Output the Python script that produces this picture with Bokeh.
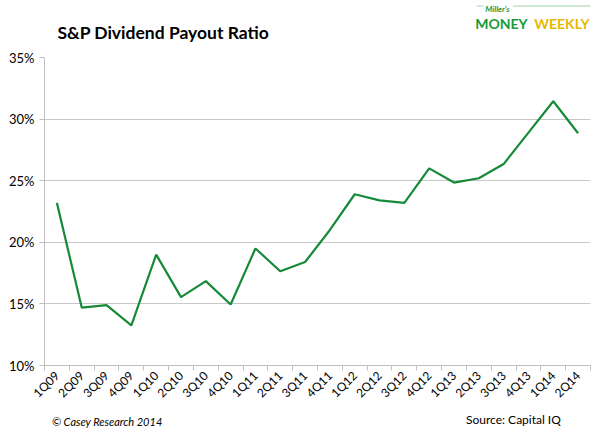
from bokeh.plotting import figure
from bokeh.models import Range1d, FixedTicker, PrintfTickFormatter, ColumnDataSource
from bokeh.layouts import column
from bokeh.core.properties import value
from bokeh.embed import file_html
from bokeh.resources import INLINE
import math

quarters = ["1Q09", "2Q09", "3Q09", "4Q09", "1Q10", "2Q10", "3Q10", "4Q10",
            "1Q11", "2Q11", "3Q11", "4Q11", "1Q12", "2Q12", "3Q12", "4Q12",
            "1Q13", "2Q13", "3Q13", "4Q13", "1Q14", "2Q14"]
payout = [23.2, 14.7, 14.9, 13.25, 19.0, 15.55, 16.85, 14.95,
          19.5, 17.65, 18.4, 21.0, 23.9, 23.4, 23.2, 26.0,
          24.85, 25.2, 26.35, 28.9, 31.45, 28.85]
y_ticks = [10, 15, 20, 25, 30, 35]

title_text = "S&P Dividend Payout Ratio"
logo_top = "Miller's"
logo_left = "MONEY"
logo_right = "WEEKLY"
credit_text = "© Casey Research 2014"
source_text = "Source: Capital IQ"

FONT = "Lato"
GREEN = "#178a3a"
W = 592


def blank(height):
    f = figure(width=W, height=height, output_backend="svg", toolbar_location=None,
               x_range=Range1d(0, W), y_range=Range1d(height, 0),
               x_axis_type=None, y_axis_type=None,
               min_border=0, min_border_left=0, min_border_right=0,
               min_border_top=0, min_border_bottom=0)
    f.grid.visible = False
    f.outline_line_color = None
    f.background_fill_color = "white"
    f.border_fill_color = "white"
    return f


# ---- header ----
HH = 48
head = blank(HH)
head.text(x=[14], y=[32], text=[title_text], text_font=value(FONT), text_font_size="17.5px",
          text_font_style="bold", text_color="#000000", text_baseline="alphabetic")
head.text(x=[467], y=[23], text=[logo_left], text_font=value(FONT), text_font_size="14px",
          text_font_style="bold", text_color="#169a3a", text_baseline="alphabetic")
head.text(x=[531], y=[23], text=[logo_right], text_font=value(FONT), text_font_size="14px",
          text_font_style="bold", text_color="#e6b800", text_baseline="alphabetic")
head.text(x=[478], y=[8], text=[logo_top], text_font=value(FONT), text_font_size="8px",
          text_font_style="bold italic", text_color="#169a3a", text_baseline="alphabetic")
head.segment(x0=[469, 508], y0=[5.5, 5.5], x1=[476, 592], y1=[5.5, 5.5],
             line_color="#9fd3ae", line_width=1)

# ---- main chart ----
xs = [i + 0.5 for i in range(len(quarters))]
src = ColumnDataSource(dict(x=xs, y=payout))

MH = 361
FH = 19
p = figure(width=W, height=MH, output_backend="svg", toolbar_location=None,
           x_range=Range1d(0, len(quarters)), y_range=Range1d(10, 35),
           min_border_left=44, min_border_right=2, min_border_top=9,
           min_border_bottom=MH - 9 - 308)
p.outline_line_color = None
p.background_fill_color = "white"
p.border_fill_color = "white"

p.line("x", "y", source=src, line_color=GREEN, line_width=2.2)

xa = p.xaxis[0]
xa.ticker = FixedTicker(ticks=xs, minor_ticks=list(range(len(quarters) + 1)))
xa.major_label_overrides = {x: q for x, q in zip(xs, quarters)}
xa.major_tick_out = 0
xa.major_tick_in = 0
xa.minor_tick_out = 5
xa.minor_tick_in = 0
xa.minor_tick_line_color = "#bfbfbf"
xa.axis_line_color = "#bfbfbf"
xa.major_label_orientation = math.pi / 4
xa.major_label_text_font = FONT
xa.major_label_text_font_size = "12px"
xa.major_label_text_color = "#000000"
xa.major_label_standoff = 3

ya = p.yaxis[0]
ya.ticker = FixedTicker(ticks=y_ticks)
ya.formatter = PrintfTickFormatter(format="%d%%")
ya.major_tick_out = 5
ya.major_tick_in = 0
ya.minor_tick_out = 0
ya.minor_tick_in = 0
ya.major_tick_line_color = "#bfbfbf"
ya.axis_line_color = "#bfbfbf"
ya.major_label_text_font = FONT
ya.major_label_text_font_size = "13px"
ya.major_label_text_color = "#000000"
ya.major_label_standoff = 5

p.xgrid.grid_line_color = None
p.ygrid.ticker = FixedTicker(ticks=y_ticks)
p.ygrid.grid_line_color = "#c8c8c8"
p.ygrid.grid_line_width = 1

# ---- footer ----
foot = blank(FH)
foot.text(x=[8], y=[12], text=[credit_text], text_font=value(FONT), text_font_size="11px",
          text_font_style="italic", text_color="#000000", text_baseline="alphabetic")
foot.text(x=[457], y=[10], text=[source_text], text_font=value(FONT), text_font_size="12px",
          text_color="#000000", text_baseline="alphabetic")

layout = column(head, p, foot, spacing=0)
open("out.html", "w").write(file_html(layout, INLINE))
